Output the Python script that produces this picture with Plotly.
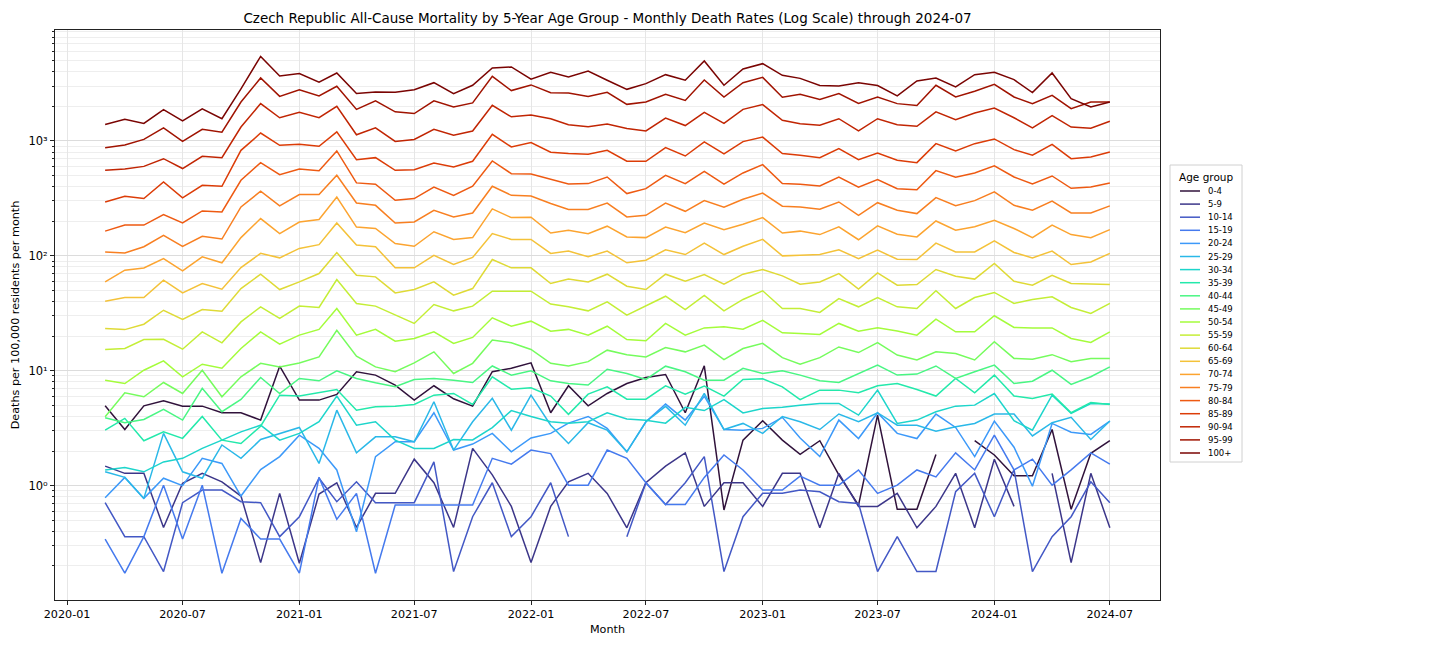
import plotly.graph_objects as go
import plotly.colors as pc

# Months 2020-03 .. 2024-07
months = [f"{y}-{m:02d}-01" for y in range(2020, 2025) for m in range(1, 13)]
months = [d for d in months if "2020-03-01" <= d <= "2024-07-01"]

age_groups = ["0-4", "5-9", "10-14", "15-19", "20-24", "25-29", "30-34", "35-39",
              "40-44", "45-49", "50-54", "55-59", "60-64", "65-69", "70-74",
              "75-79", "80-84", "85-89", "90-94", "95-99", "100+"]

r_0_4 = [4.95, 3.08, 4.95, 5.48, 4.92, 4.92, 4.31, 4.31, 3.72, 10.96, 5.55, 5.55, 6.22, 9.8, 9.16, 7.5, 5.55, 7.4, 5.7,
         4.92, 9.8, 10.5, 11.7, 4.31, 7.4, 4.95, 6.34, 7.74, 8.73, 9.27, 4.31, 11.04, 0.614, 2.49, 3.67, 2.49, 1.87,
         2.46, 1.24, 0.678, 4.11, 0.622, 0.622, 1.87, None, 2.46, 1.85, 1.22, 1.22, 3.08, 0.622, 1.91, 2.46]
r_5_9 = [1.48, 1.28, 1.28, 0.433, 1.05, 1.28, 1.08, 0.812, 0.214, 0.857, 0.211, 0.845, 1.06, 0.433, 0.857, 0.857, 1.70, 1.06, 0.433,
         2.11, 1.24, 0.66, 0.214, 0.66, 1.08, 1.28, 0.857, 0.43, 1.06, 1.48, 1.93, 0.66, 1.06, 1.06, 0.66, 1.28, 1.28,
         0.43, 1.28, 0.66, 0.66, 0.857, 0.43, 0.66, 1.28, 0.43, 1.70, 0.66, None, 1.28, 0.214, 1.28, 0.43]
r_10_14 = [0.711, 0.36, 0.36, 0.179, 0.711, 0.916, 0.916, 0.725, 0.711, 0.36, 0.537, 1.16, 0.725, 1.08, 0.711, 0.711, 0.711, 1.61, 0.179,
           0.537, 1.06, 0.36, 0.537, 1.06, 0.36, None, None, 0.36, 1.06, 0.685, 1.06, 1.79, 0.179, 0.537, 0.857, 0.857, 0.916,
           0.885, 0.725, 0.70, 0.179, 0.36, 0.179, 0.179, 0.885, 1.28, 0.537, 1.38, 0.179, 0.36, 0.537, 1.08, 0.711]
r_15_19 = [0.343, 0.173, 0.36, 1.01, 0.343, 1.01, 0.173, 0.519, 0.343, 0.343, 0.173, 1.18, 0.509, 0.857, 0.173, 0.678, 0.678, 0.678, 0.678,
           0.678, 1.73, 1.54, 2.04, 1.9, 1.01, 1.01, 2.04, 1.73, 1.06, 0.685, 0.685, 1.18, 1.85, 1.37, 0.916, 0.916, 1.21,
           1.01, 1.01, 1.37, 0.857, 1.01, 1.37, 1.19, 1.93, 1.37, 2.75, 1.37, 1.70, 1.01, 1.37, 1.93, 1.54]
r_20_24 = [0.785, 1.18, 0.775, 1.16, 1.0, 1.73, 1.56, 0.812, 1.38, 1.79, 2.75, 2.11, 1.37, 0.397, 1.79, 2.41, 2.41, 4.31, 2.04,
           2.3, 2.85, 1.97, 2.6, 2.85, 3.5, 4.0, 3.15, 1.97, 3.6, 5.13, 3.72, 6.0, 3.08, 3.04, 3.15, 3.93, 2.6,
           1.79, 3.72, 2.57, 4.31, 2.85, 2.57, 4.2, 3.21, 1.79, 3.65, 2.16, 0.99, 3.48, 2.92, 2.79, 3.65]
r_25_29 = [1.32, 1.18, 0.775, 2.85, 1.32, 1.16, 2.26, 1.73, 2.52, 2.85, 3.21, 1.56, 4.54, 1.93, 2.66, 2.66, 2.41, 5.37, 2.04,
           3.6, 5.75, 3.04, 6.13, 3.36, 2.33, 3.53, 3.04, 1.97, 3.6, 4.9, 3.36, 6.35, 3.08, 3.48, 2.85, 4.0, 3.6,
           3.08, 4.2, 3.6, 4.31, 3.36, 3.36, 2.98, 3.26, 3.48, 4.2, 4.2, 2.71, 3.53, 3.93, 2.52, 3.65]
r_30_34 = [1.37, 1.44, 1.32, 1.61, 1.73, 2.11, 2.49, 2.94, 3.36, 2.49, 2.85, 3.6, 6.01, 3.36, 3.6, 2.49, 2.11, 2.11, 2.52,
           2.5, 3.2, 4.5, 4.0, 3.6, 3.5, 3.6, 4.3, 3.8, 3.7, 3.5, 4.8, 4.5, 5.6, 4.3, 4.7, 4.8, 5.0,
           5.19, 5.19, 4.11, 6.78, 3.48, 3.72, 4.4, 4.92, 5.02, 6.34, 3.67, 3.04, 6.13, 4.25, 5.19, 5.13]
r_35_39 = [3.04, 3.85, 2.46, 2.94, 2.58, 4.0, 2.49, 2.33, 3.29, 6.13, 6.02, 6.43, 6.87, 4.54, 4.85, 4.92, 5.09, 6.13, 6.35,
           5.09, 8.86, 6.91, 7.1, 6.02, 4.17, 6.26, 7.25, 5.66, 5.66, 7.4, 6.26, 7.35, 6.02, 8.4, 8.5, 7.25, 5.6,
           6.78, 6.78, 6.43, 7.4, 7.74, 6.87, 6.02, 8.57, 6.43, 9.16, 6.02, 5.74, 6.26, 4.31, 5.3, 5.09]
r_40_44 = [3.9, 3.53, 3.77, 4.61, 3.72, 7.02, 4.4, 5.63, 8.73, 6.34, 8.56, 8.17, 9.98, 8.56, 7.85, 7.25, 8.4, 8.56, 8.28,
           7.9, 11.0, 9.16, 10.0, 8.17, 7.74, 7.5, 10.3, 9.47, 8.4, 10.96, 9.8, 8.28, 8.28, 10.5, 9.47, 10.0, 9.16,
           8.17, 7.9, 9.47, 11.2, 9.16, 9.35, 11.0, 8.57, 9.8, 11.2, 7.74, 8.1, 10.1, 7.6, 8.86, 10.8]
r_45_49 = [3.97, 6.43, 5.93, 7.9, 6.34, 10.1, 5.93, 8.86, 11.6, 10.8, 11.7, 13.2, 22.5, 13.4, 10.8, 9.8, 11.7, 14.6, 9.47,
           11.6, 18.5, 17.5, 15.3, 11.6, 11.0, 12.0, 15.1, 13.8, 13.2, 15.9, 14.6, 16.7, 12.5, 15.6, 17.3, 13.0, 11.4,
           13.0, 16.1, 14.4, 17.6, 13.7, 12.4, 14.6, 14.1, 12.4, 17.9, 12.8, 12.6, 13.8, 12.0, 12.8, 12.8]
r_50_54 = [8.28, 7.74, 10.1, 12.2, 8.86, 11.4, 10.5, 15.6, 21.8, 17.0, 20.4, 22.9, 34.8, 20.4, 22.9, 18.1, 19.1, 21.8, 17.3,
           19.5, 28.9, 24.4, 27.0, 22.1, 22.9, 20.4, 24.4, 18.7, 18.2, 25.8, 20.4, 23.6, 24.1, 23.0, 27.5, 21.4, 21.1,
           20.7, 25.8, 22.1, 23.6, 22.2, 20.4, 28.1, 21.8, 21.8, 30.1, 23.8, 23.6, 23.6, 19.1, 17.6, 21.8]
r_55_59 = [15.3, 15.6, 18.7, 18.8, 15.4, 21.8, 17.5, 26.6, 36.0, 28.5, 36.5, 35.5, 62.2, 38.5, 36.5, 30.5, 25.8, 37.7, 33.2,
           36.5, 49.2, 49.2, 49.2, 38.0, 36.0, 33.2, 39.8, 30.5, 36.5, 44.5, 34.1, 45.2, 33.2, 41.7, 49.6, 34.8, 34.8,
           32.2, 42.5, 36.0, 43.4, 36.0, 34.8, 49.6, 34.8, 43.4, 48.0, 38.5, 41.7, 44.0, 35.5, 31.5, 38.5]
r_60_64 = [23.3, 22.8, 25.4, 33.6, 27.9, 34.1, 33.0, 51.9, 69.2, 50.9, 59.3, 70.1, 106.7, 67.8, 65.6, 47.6, 50.9, 59.3, 45.4,
           51.9, 92.8, 78.6, 78.6, 57.4, 62.7, 59.3, 69.2, 54.4, 50.9, 69.2, 60.1, 68.7, 56.6, 69.2, 76.0, 66.9, 56.6,
           59.3, 70.1, 51.3, 71.1, 55.5, 56.2, 76.0, 66.5, 62.7, 85.8, 60.1, 55.5, 67.8, 57.4, 56.6, 56.2]
r_65_69 = [40.3, 43.4, 43.4, 61.4, 47.6, 57.4, 51.3, 79.0, 105, 96.0, 116, 125, 193, 124, 120, 78.6, 78.6, 101, 84.0,
           96.7, 156, 139, 139, 105, 110, 98.0, 110, 86.9, 91.6, 113, 102.6, 129, 102.6, 121, 139, 99.9, 101,
           102.6, 113, 94.6, 112, 93.3, 92.8, 129, 108, 108, 135, 107, 96.0, 110, 84.0, 88.5, 105]
r_70_74 = [59.3, 75.0, 78.5, 94.6, 74.0, 98.0, 86.9, 144, 211, 156, 197, 207, 325, 178, 173, 128, 121, 162, 139,
           144, 256, 215, 217, 158, 167, 156, 181, 146, 144, 178, 159, 193, 169, 188, 215, 158, 164,
           153, 179, 138, 182, 154, 146, 201, 167, 179, 204, 173, 144, 185, 153, 144, 169]
r_75_79 = [108, 106, 120, 151, 121, 148, 140, 266, 365, 272, 341, 341, 502, 288, 275, 193, 197, 249, 218,
           236, 403, 336, 332, 285, 253, 253, 288, 218, 225, 288, 244, 302, 265, 311, 352, 270, 266,
           254, 294, 225, 290, 249, 233, 321, 273, 302, 360, 275, 249, 299, 236, 236, 272]
r_80_84 = [164, 185, 185, 228, 193, 246, 241, 454, 647, 509, 570, 551, 817, 431, 420, 304, 315, 397, 336,
           403, 669, 519, 515, 463, 422, 425, 485, 348, 384, 502, 425, 544, 420, 526, 622, 425, 420,
           405, 485, 395, 460, 384, 376, 551, 482, 526, 606, 485, 422, 495, 387, 397, 431]
r_85_89 = [294, 330, 315, 440, 319, 411, 403, 828, 1170, 916, 934, 897, 1200, 687, 715, 555, 562, 642, 593,
           665, 1140, 885, 966, 796, 775, 764, 828, 665, 665, 873, 739, 979, 770, 986, 1080, 775, 750,
           715, 857, 687, 785, 678, 647, 946, 817, 946, 1040, 839, 750, 934, 701, 725, 801]
r_90_94 = [555, 570, 600, 700, 575, 735, 715, 1320, 2110, 1590, 1770, 1590, 2000, 1130, 1300, 990, 1030, 1260, 1120,
           1220, 2040, 1620, 1680, 1560, 1380, 1330, 1400, 1280, 1220, 1580, 1360, 1770, 1420, 1880, 2070, 1510, 1410,
           1370, 1560, 1220, 1560, 1380, 1340, 1790, 1530, 1750, 1930, 1590, 1300, 1660, 1320, 1290, 1480]
r_95_99 = [870, 920, 1030, 1300, 990, 1260, 1190, 2180, 3530, 2440, 2790, 2460, 2990, 1880, 2230, 1790, 1730, 2230, 1970,
           2140, 3650, 2740, 3070, 2630, 2610, 2430, 2650, 2080, 2180, 2540, 2250, 3390, 2410, 3210, 3570, 2400, 2540,
           2290, 2580, 2120, 2410, 2110, 2030, 3050, 2410, 2700, 3110, 2410, 2110, 2490, 1910, 2180, 2180]
r_100p = [1390, 1540, 1420, 1870, 1490, 1900, 1560, 2840, 5440, 3670, 3850, 3250, 3900, 2580, 2660, 2650, 2790, 3210, 2580,
          3050, 4310, 4400, 3440, 3960, 3600, 4060, 3370, 2810, 3150, 3770, 3370, 4960, 3050, 4220, 4700, 3720, 3500,
          3030, 3010, 3210, 3030, 2460, 3320, 3530, 2950, 3770, 3960, 3410, 2630, 3900, 2330, 1970, 2180]

series = [r_0_4, r_5_9, r_10_14, r_15_19, r_20_24, r_25_29, r_30_34, r_35_39, r_40_44, r_45_49,
          r_50_54, r_55_59, r_60_64, r_65_69, r_70_74, r_75_79, r_80_84, r_85_89, r_90_94, r_95_99, r_100p]

x_ticks = ["2020-01-01", "2020-07-01", "2021-01-01", "2021-07-01", "2022-01-01", "2022-07-01",
           "2023-01-01", "2023-07-01", "2024-01-01", "2024-07-01"]
x_ticktext = [d[:7] for d in x_ticks]
y_ticks = [1, 10, 100, 1000]
y_ticktext = ["10\u2070", "10\u00b9", "10\u00b2", "10\u00b3"]

colors = pc.sample_colorscale("Turbo", [i / 20 for i in range(21)])

FONT = "DejaVu Sans, Arial, sans-serif"
W, H = 1456, 647
L, R, T, B = 55, 1160, 30, 600  # plot area in pixels


def px_x(p):
    return (p - L) / (R - L)


def px_y(p):
    return (B - p) / (B - T)


fig = go.Figure()
for name, vals, col in zip(age_groups, series, colors):
    fig.add_trace(go.Scatter(x=months, y=vals, mode="lines", name=name, showlegend=False,
                             line=dict(color=col, width=1.5)))

# Legend drawn as a compact box (matplotlib style)
shapes = [dict(type="rect", xref="paper", yref="paper",
               x0=px_x(1170), x1=px_x(1242), y0=px_y(462), y1=px_y(165),
               line=dict(color="#d0d0d0", width=1), fillcolor="white", layer="above")]
annotations = [dict(text="Age group", xref="paper", yref="paper", x=px_x(1206), y=px_y(177),
                    xanchor="center", yanchor="middle", showarrow=False,
                    font=dict(size=10.5, family=FONT, color="black"))]
for k, (name, col) in enumerate(zip(age_groups, colors)):
    yy = 191 + 13.1 * k
    shapes.append(dict(type="line", xref="paper", yref="paper",
                       x0=px_x(1180), x1=px_x(1200), y0=px_y(yy), y1=px_y(yy),
                       line=dict(color=col, width=1.5), layer="above"))
    annotations.append(dict(text=name, xref="paper", yref="paper", x=px_x(1206), y=px_y(yy),
                            xanchor="left", yanchor="middle", showarrow=False,
                            font=dict(size=8.5, family=FONT, color="black")))

minor_vals = [m * 10 ** k for k in range(-1, 4) for m in range(2, 10)]

fig.update_layout(
    width=W, height=H,
    margin=dict(l=L, r=W - R, t=T, b=H - B),
    paper_bgcolor="white", plot_bgcolor="white",
    font=dict(family=FONT, color="black", size=11),
    showlegend=False,
    shapes=shapes, annotations=annotations,
    title=dict(text="Czech Republic All-Cause Mortality by 5-Year Age Group - Monthly Death Rates (Log Scale) through 2024-07",
               x=(L + R) / 2 / W, xanchor="center", y=1 - 18 / H, yanchor="middle",
               font=dict(size=13.5, family=FONT, color="black")),
    xaxis=dict(type="date", range=["2019-12-13", "2024-09-18"],
               tickvals=x_ticks, ticktext=x_ticktext,
               showgrid=True, gridcolor="#e6e6e6", gridwidth=1,
               showline=True, linecolor="#222222", linewidth=1, mirror=True,
               ticks="outside", ticklen=4, tickcolor="#222222",
               tickfont=dict(size=11.2), zeroline=False,
               title=dict(text="Month", font=dict(size=11.2), standoff=4)),
    yaxis=dict(type="log", range=[-0.995, 3.965],
               tickvals=y_ticks, ticktext=y_ticktext,
               showgrid=True, gridcolor="#dcdcdc", gridwidth=1,
               showline=True, linecolor="#222222", linewidth=1, mirror=True,
               ticks="outside", ticklen=4, tickcolor="#222222",
               tickfont=dict(size=11.5), zeroline=False,
               minor=dict(tickvals=minor_vals, showgrid=True, gridcolor="#eeeeee",
                          ticks="outside", ticklen=2, tickcolor="#222222"),
               title=dict(text="Deaths per 100,000 residents per month", font=dict(size=11.2), standoff=6)),
)

fig.write_html("out.html")
